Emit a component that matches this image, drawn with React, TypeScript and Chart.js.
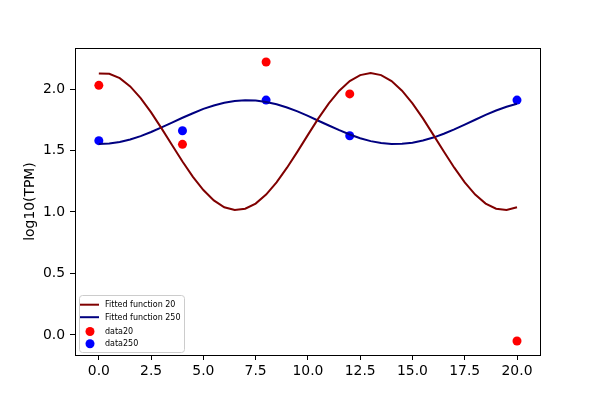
import React, { useEffect, useRef } from "react";
import { Chart, registerables } from "chart.js";

Chart.register(...registerables);

const curveX = [
  0, 0.5, 1, 1.5, 2, 2.5, 3, 3.5, 4, 4.5, 5, 5.5, 6, 6.5, 7, 7.5, 8, 8.5, 9, 9.5, 10,
  10.5, 11, 11.5, 12, 12.5, 13, 13.5, 14, 14.5, 15, 15.5, 16, 16.5, 17, 17.5, 18, 18.5, 19, 19.5, 20,
];
const fit20 = [
  2.127, 2.124, 2.088, 2.021, 1.926, 1.81, 1.68, 1.544, 1.41, 1.285, 1.178, 1.094, 1.038, 1.016,
  1.026, 1.068, 1.141, 1.24, 1.36, 1.491, 1.627, 1.761, 1.883, 1.986, 2.064, 2.113, 2.13, 2.113,
  2.064, 1.986, 1.883, 1.761, 1.627, 1.491, 1.36, 1.24, 1.141, 1.068, 1.026, 1.016, 1.038,
];
const fit250 = [
  1.552, 1.556, 1.569, 1.589, 1.617, 1.65, 1.688, 1.727, 1.766, 1.803, 1.838, 1.866, 1.888, 1.903,
  1.909, 1.906, 1.895, 1.876, 1.85, 1.818, 1.782, 1.742, 1.703, 1.665, 1.63, 1.6, 1.576, 1.56,
  1.553, 1.554, 1.563, 1.581, 1.605, 1.636, 1.672, 1.711, 1.75, 1.789, 1.825, 1.856, 1.88,
];
const sampleX = [0, 4, 8, 12, 20];
const data20 = [2.03, 1.55, 2.22, 1.96, -0.05];
const data250 = [1.58, 1.66, 1.91, 1.62, 1.91];
const xTicks = [0, 2.5, 5, 7.5, 10, 12.5, 15, 17.5, 20];
const yTicks = [0, 0.5, 1, 1.5, 2];
const labels = ["Fitted function 20", "Fitted function 250", "data20", "data250"];

const FONT = "'DejaVu Sans', sans-serif";

const framePlugin = {
  id: "frame",
  afterDraw(chart: any) {
    const { ctx, chartArea: a } = chart;
    ctx.save();
    ctx.strokeStyle = "#000";
    ctx.lineWidth = 1;
    ctx.strokeRect(Math.round(a.left) + 0.5, Math.round(a.top) + 0.5, Math.round(a.right - a.left), Math.round(a.bottom - a.top));
    ctx.restore();
  },
};

const legendPlugin = {
  id: "mplLegend",
  afterDraw(chart: any) {
    const { ctx } = chart;
    const ds = chart.data.datasets;
    const bx = 79.5, by = 295.5, bw = 105, bh = 57, r = 3;
    ctx.save();
    ctx.beginPath();
    ctx.moveTo(bx + r, by);
    ctx.lineTo(bx + bw - r, by);
    ctx.quadraticCurveTo(bx + bw, by, bx + bw, by + r);
    ctx.lineTo(bx + bw, by + bh - r);
    ctx.quadraticCurveTo(bx + bw, by + bh, bx + bw - r, by + bh);
    ctx.lineTo(bx + r, by + bh);
    ctx.quadraticCurveTo(bx, by + bh, bx, by + bh - r);
    ctx.lineTo(bx, by + r);
    ctx.quadraticCurveTo(bx, by, bx + r, by);
    ctx.closePath();
    ctx.fillStyle = "rgba(255,255,255,0.8)";
    ctx.fill();
    ctx.strokeStyle = "#cccccc";
    ctx.lineWidth = 1;
    ctx.stroke();
    const rows = [304.7, 317.2, 331.5, 343.8];
    ctx.font = `8px ${FONT}`;
    ctx.textBaseline = "middle";
    ctx.textAlign = "left";
    ds.forEach((d: any, i: number) => {
      const y = rows[i];
      if (d.showLine) {
        ctx.strokeStyle = d.borderColor;
        ctx.lineWidth = 2;
        ctx.beginPath();
        ctx.moveTo(80, y);
        ctx.lineTo(99, y);
        ctx.stroke();
      } else {
        ctx.fillStyle = d.backgroundColor;
        ctx.beginPath();
        ctx.arc(90, y, 4.5, 0, Math.PI * 2);
        ctx.fill();
      }
      ctx.fillStyle = "#000";
      ctx.fillText(d.label, 105, y + 0.5);
    });
    ctx.restore();
  },
};

export default function App() {
  const ref = useRef<HTMLCanvasElement>(null);
  useEffect(() => {
    document.body.style.margin = "0";
    const canvas = ref.current!;
    const chart = new Chart(canvas, {
      type: "scatter",
      data: {
        datasets: [
          {
            label: labels[0],
            data: curveX.map((x, i) => ({ x, y: fit20[i] })),
            showLine: true,
            borderColor: "#800000",
            backgroundColor: "#800000",
            borderWidth: 2,
            pointRadius: 0,
            tension: 0,
          },
          {
            label: labels[1],
            data: curveX.map((x, i) => ({ x, y: fit250[i] })),
            showLine: true,
            borderColor: "#000080",
            backgroundColor: "#000080",
            borderWidth: 2,
            pointRadius: 0,
            tension: 0,
          },
          {
            label: labels[2],
            data: sampleX.map((x, i) => ({ x, y: data20[i] })),
            showLine: false,
            backgroundColor: "#ff0000",
            borderColor: "#ff0000",
            borderWidth: 0,
            pointRadius: 4.5,
          },
          {
            label: labels[3],
            data: sampleX.map((x, i) => ({ x, y: data250[i] })),
            showLine: false,
            backgroundColor: "#0000ff",
            borderColor: "#0000ff",
            borderWidth: 0,
            pointRadius: 4.5,
          },
        ],
      },
      options: {
        animation: false,
        responsive: false,
        devicePixelRatio: 1,
        layout: { padding: { top: 48, right: 60, left: 0, bottom: 0 } },
        plugins: { legend: { display: false }, tooltip: { enabled: false } },
        scales: {
          x: {
            type: "linear",
            min: -1.14,
            max: 21.1,
            afterBuildTicks: (s: any) => {
              s.ticks = xTicks.map((v) => ({ value: v }));
            },
            afterFit: (s: any) => {
              s.height = 45;
            },
            ticks: {
              callback: (v: any) => Number(v).toFixed(1),
              font: { family: FONT, size: 13.9 },
              color: "#000",
              padding: 3,
              maxRotation: 0,
            },
            grid: { drawOnChartArea: false, tickLength: 5, tickColor: "#000", color: "#000" },
            border: { display: true, color: "#000", width: 1 },
          },
          y: {
            type: "linear",
            min: -0.1635,
            max: 2.3335,
            afterBuildTicks: (s: any) => {
              s.ticks = yTicks.map((v) => ({ value: v }));
            },
            afterFit: (s: any) => {
              s.width = 75;
            },
            ticks: {
              callback: (v: any) => Number(v).toFixed(1),
              font: { family: FONT, size: 13.9 },
              color: "#000",
              padding: 5,
            },
            grid: { drawOnChartArea: false, tickLength: 5, tickColor: "#000", color: "#000" },
            border: { display: true, color: "#000", width: 1 },
            title: {
              display: true,
              text: "log10(TPM)",
              font: { family: FONT, size: 13.9 },
              color: "#000",
              padding: { top: 22, bottom: 0 },
            },
          },
        },
      },
      plugins: [framePlugin, legendPlugin],
    });
    return () => chart.destroy();
  }, []);
  return <canvas ref={ref} width={600} height={400} style={{ width: 600, height: 400, display: "block" }} />;
}
